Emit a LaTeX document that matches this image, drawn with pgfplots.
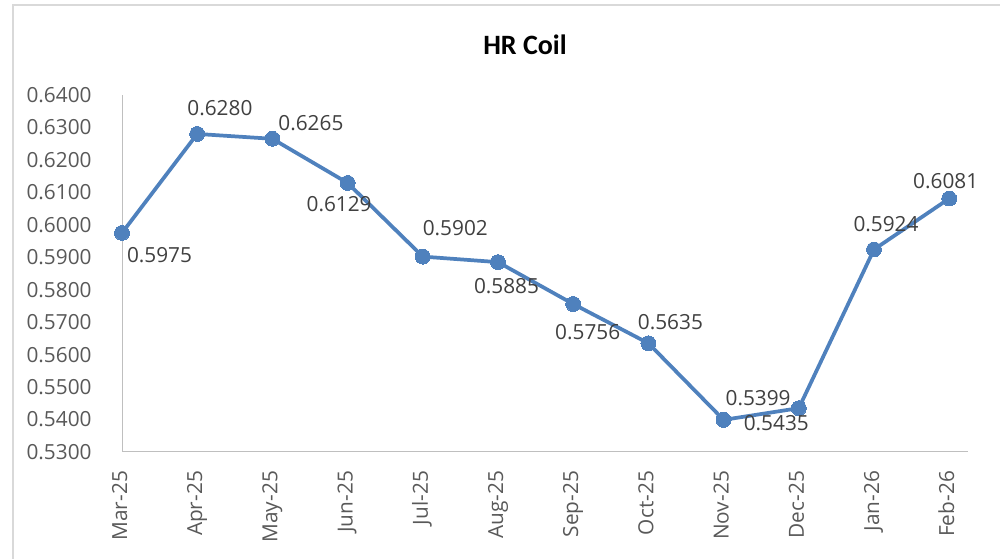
\documentclass[border=0pt]{standalone}
\usepackage{pgfplots}
\pgfplotsset{compat=1.18}
\usepackage{fontspec}
\setmainfont{Open Sans}
\newfontfamily\titlefont{Carlito}
\definecolor{serblue}{RGB}{79,129,189}
\definecolor{tickgray}{RGB}{89,89,89}
\definecolor{labgray}{RGB}{64,64,64}
\definecolor{axgray}{RGB}{191,191,191}
\definecolor{bordgray}{RGB}{217,217,217}

\pgfplotsset{
  lab/.style 2 args={draw=none, mark=none, forget plot, point meta=y,
    nodes near coords={\pgfmathprintnumber[fixed,fixed zerofill,precision=4,assume math mode=true]{\pgfplotspointmeta}},
    every node near coord/.append style={anchor=center, inner sep=0pt, text=labgray,
      font=\fontsize{15.6}{18}\selectfont, xshift=#1*0.75pt, yshift=#2*0.75pt}},
}

\begin{document}
\begin{tikzpicture}
\useasboundingbox (0,0) rectangle (750pt,419.25pt);
\draw[bordgray, line width=1.1pt] (9.75pt,-20pt) rectangle (770pt,415.5pt);
\node[anchor=base, font=\titlefont\bfseries\fontsize{21}{24}\selectfont, text=black] at (393.75pt,378pt) {HR Coil};
\begin{axis}[
  at={(91.5pt,80.25pt)}, anchor=south west,
  scale only axis, width=634.5pt, height=267.75pt,
  xmin=0, xmax=11.25, ymin=0.53, ymax=0.64,
  axis x line=bottom, axis y line=left,
  axis line style={draw=axgray, line width=0.75pt, -},
  major tick style={draw=none},
  xtick={0,...,11},
  xticklabels={Mar-25,Apr-25,May-25,Jun-25,Jul-25,Aug-25,Sep-25,Oct-25,Nov-25,Dec-25,Jan-26,Feb-26},
  ytick={0.53,0.54,0.55,0.56,0.57,0.58,0.59,0.60,0.61,0.62,0.63,0.64},
  yticklabel style={/pgf/number format/.cd, fixed, fixed zerofill, precision=4, assume math mode=true, /tikz/.cd,
     font=\fontsize{15.6}{18}\selectfont, text=tickgray, inner sep=0pt, anchor=east},
  yticklabel shift=20.5pt,
  xticklabel style={rotate=90, anchor=east, font=\fontsize{15.6}{18}\selectfont, text=tickgray, inner sep=0pt, text height=11pt, text depth=3.5pt},
  xticklabel shift=12pt,
  clip=false,
]
\addplot[serblue, line width=2.8pt, mark=*, mark size=5.6pt, mark options={fill=serblue, draw=serblue, line width=0pt}]
 coordinates {(0,0.5975) (1,0.6280) (2,0.6265) (3,0.6129) (4,0.5902) (5,0.5885) (6,0.5756) (7,0.5635) (8,0.5399) (9,0.5435) (10,0.5924) (11,0.6081)};
\addplot[lab={37.5}{-22}] coordinates {(0,0.5975)};
\addplot[lab={22.7}{26}] coordinates {(1,0.6280)};
\addplot[lab={38.5}{16}] coordinates {(2,0.6265)};
\addplot[lab={-8.5}{-21}] coordinates {(3,0.6129)};
\addplot[lab={32.5}{29}] coordinates {(4,0.5902)};
\addplot[lab={8.5}{-24}] coordinates {(5,0.5885)};
\addplot[lab={14.5}{-28.5}] coordinates {(6,0.5756)};
\addplot[lab={22}{21.5}] coordinates {(7,0.5635)};
\addplot[lab={34.5}{22}] coordinates {(8,0.5399)};
\addplot[lab={-22.5}{-14.5}] coordinates {(9,0.5435)};
\addplot[lab={12}{25}] coordinates {(10,0.5924)};
\addplot[lab={-3.5}{17}] coordinates {(11,0.6081)};
\end{axis}
\end{tikzpicture}
\end{document}
